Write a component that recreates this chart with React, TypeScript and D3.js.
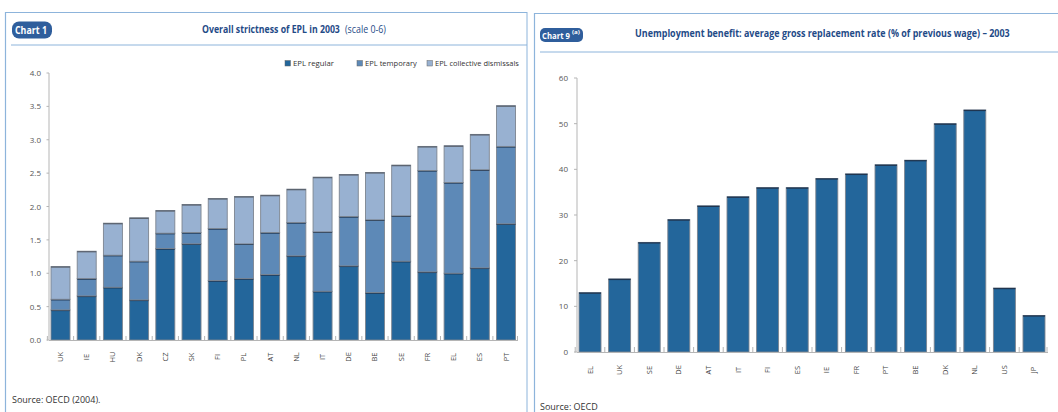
import React, { useLayoutEffect, useRef, useState } from "react";
import * as d3 from "d3";

const eplCountries = ["UK","IE","HU","DK","CZ","SK","FI","PL","AT","NL","IT","DE","BE","SE","FR","EL","ES","PT"];
const eplRegular = [0.45,0.66,0.79,0.60,1.37,1.44,0.89,0.92,0.98,1.26,0.73,1.11,0.71,1.18,1.02,1.00,1.08,1.74];
const eplTemporary = [0.16,0.26,0.48,0.58,0.23,0.17,0.78,0.52,0.63,0.50,0.89,0.74,1.09,0.68,1.52,1.36,1.47,1.16];
const eplCollective = [0.49,0.41,0.48,0.65,0.34,0.42,0.45,0.71,0.56,0.50,0.82,0.63,0.71,0.76,0.36,0.55,0.53,0.61];
const eplTicks = [0,0.5,1,1.5,2,2.5,3,3.5,4];
const eplSeries = ["EPL regular","EPL temporary","EPL collective dismissals"];

const ubCountries = ["EL","UK","SE","DE","AT","IT","FI","ES","IE","FR","PT","BE","DK","NL","US","JP"];
const ubValues = [13,16,24,29,32,34,36,36,38,39,41,42,50,53,14,8];
const ubTicks = [0,10,20,30,40,50,60];

const COLORS = ["#23669b","#5d89b7","#98b1d1"];
const FRAME = "#8db4db";
const BADGE = "#2f5e9c";
const TITLE = "#1f4b87";
const FONT = "'Open Sans', 'Noto Sans', sans-serif";

function FitText(props: { x: number; y: number; width: number; children: any; [k: string]: any }) {
  const { x, y, width, children, ...rest } = props;
  const ref = useRef<SVGTextElement>(null);
  const [sx, setSx] = useState(1);
  useLayoutEffect(() => {
    if (ref.current) {
      const w = ref.current.getComputedTextLength();
      if (w > 0) setSx(width / w);
    }
  }, [width, children]);
  return (
    <text ref={ref} x={0} y={0} transform={`translate(${x},${y}) scale(${sx},1)`} {...rest}>{children}</text>
  );
}

export default function App() {
  const xL = d3.scaleBand<string>().domain(eplCountries).range([49, 517.5]).paddingInner(0.275).paddingOuter(0.076);
  const yL = d3.scaleLinear().domain([0, 4]).range([340, 73]);
  const stackData = eplCountries.map((c, i) => ({ c, r: eplRegular[i], t: eplTemporary[i], d: eplCollective[i] }));
  const stack = d3.stack<any>().keys(["r", "t", "d"])(stackData);

  const xR = d3.scaleBand<string>().domain(ubCountries).range([577, 1047]).paddingInner(0.257).paddingOuter(0.068);
  const yR = d3.scaleLinear().domain([0, 60]).range([352, 78]);

  const legendX = [285, 357, 427];

  return (
    <div style={{ position: "absolute", left: 0, top: 0 }}>
      <svg width={1058} height={412} style={{ display: "block", fontFamily: FONT }}>
        <rect width={1058} height={412} fill="#fff" />
        {/* Left panel frame */}
        <line x1={5} y1={12.5} x2={527} y2={12.5} stroke={FRAME} strokeWidth={1.2} />
        <line x1={5.5} y1={12} x2={5.5} y2={412} stroke={FRAME} strokeWidth={1.2} />
        <line x1={527} y1={12} x2={527} y2={412} stroke={FRAME} strokeWidth={1} />
        <line x1={11} y1={45} x2={527} y2={45} stroke={FRAME} strokeWidth={1} />
        <rect x={12} y={21.5} width={40} height={17} rx={7} fill={BADGE} />
        <FitText x={15} y={33.5} width={32} fill="#fff" fontSize={10} fontWeight={700}>Chart 1</FitText>
        <FitText x={202} y={33} width={138} fill={TITLE} fontSize={10} fontWeight={700}>Overall strictness of EPL in 2003</FitText>
        <FitText x={345} y={33} width={41} fill={TITLE} fontSize={10}>(scale 0-6)</FitText>

        {eplSeries.map((s, i) => (
          <g key={s}>
            <rect x={legendX[i]} y={60.5} width={5.5} height={5.5} fill={COLORS[i]} stroke="#666" strokeWidth={0.5} />
            <FitText x={legendX[i] + 8} y={66} width={[41, 52, 84][i]} fontSize={7.5} fill="#333">{s}</FitText>
          </g>
        ))}

        <line x1={49} y1={yL(4)} x2={49} y2={yL(0)} stroke="#b5b5b5" strokeWidth={1} />
        {eplTicks.map((t) => (
          <g key={t}>
            <line x1={46.5} x2={49} y1={yL(t)} y2={yL(t)} stroke="#b5b5b5" />
            <text x={41} y={yL(t) + 3} fontSize={8} fill="#555" textAnchor="end">{t.toFixed(1)}</text>
          </g>
        ))}
        {stack.map((layer, li) => (
          <g key={li}>
            {layer.map((seg, i) => {
              const x = xL(eplCountries[i])!;
              const w = xL.bandwidth();
              const y0 = yL(seg[0]);
              const y1 = yL(seg[1]);
              return (
                <g key={i}>
                  <rect x={x} y={y1} width={w} height={y0 - y1} fill={COLORS[li]} stroke="#7d8590" strokeWidth={0.9} />
                  <line x1={x} x2={x + w} y1={y1 + 0.5} y2={y1 + 0.5} stroke={li === 2 ? "#5c6470" : "#1f3550"} strokeWidth={1.3} />
                </g>
              );
            })}
          </g>
        ))}
        <line x1={49} x2={518} y1={340.5} y2={340.5} stroke="#b5b5b5" />
        {eplCountries.map((c) => {
          const bx = xL(c)! - (xL.step() - xL.bandwidth()) / 2;
          return <line key={"t" + c} x1={bx} x2={bx} y1={340.5} y2={336} stroke="#b5b5b5" />;
        })}
        <line x1={517.5} x2={517.5} y1={340.5} y2={336} stroke="#b5b5b5" />
        {eplCountries.map((c) => {
          const cx = xL(c)! + xL.bandwidth() / 2;
          return (
            <text key={"l" + c} transform={`translate(${cx + 2.5},357) rotate(-90)`} fontSize={7.5} fill="#444" textAnchor="middle">{c}</text>
          );
        })}
        <text x={12} y={403} fontSize={9} fill="#333">Source: OECD (2004).</text>

        {/* Right panel frame */}
        <line x1={534} y1={13.5} x2={1058} y2={13.5} stroke={FRAME} strokeWidth={1.2} />
        <line x1={534.5} y1={13} x2={534.5} y2={412} stroke={FRAME} strokeWidth={1.2} />
        <line x1={540} y1={52} x2={1058} y2={52} stroke={FRAME} strokeWidth={1} />
        <rect x={540} y={28} width={43} height={14} rx={5} fill={BADGE} />
        <FitText x={542} y={38.5} width={28} fill="#fff" fontSize={9.5} fontWeight={700}>Chart 9</FitText>
        <FitText x={572} y={33.5} width={8} fill="#fff" fontSize={4.5} fontWeight={700}>(a)</FitText>
        <FitText x={635} y={37} width={375} fill={TITLE} fontSize={10} fontWeight={700}>Unemployment benefit: average gross replacement rate (% of previous wage) – 2003</FitText>

        <line x1={577} y1={yR(60)} x2={577} y2={yR(0)} stroke="#b5b5b5" />
        {ubTicks.map((t) => (
          <g key={t}>
            <line x1={574} x2={577} y1={yR(t)} y2={yR(t)} stroke="#b5b5b5" />
            <text x={568} y={yR(t) + 3} fontSize={8} fill="#555" textAnchor="end">{t}</text>
          </g>
        ))}
        {ubCountries.map((c, i) => {
          const x = xR(c)!;
          const w = xR.bandwidth();
          const y1 = yR(ubValues[i]);
          return (
            <g key={c}>
              <rect x={x} y={y1} width={w} height={yR(0) - y1} fill={COLORS[0]} stroke="#7d8590" strokeWidth={0.9} />
              <line x1={x} x2={x + w} y1={y1 + 0.5} y2={y1 + 0.5} stroke="#1f3550" strokeWidth={1.3} />
            </g>
          );
        })}
        <line x1={577} x2={1048} y1={352.5} y2={352.5} stroke="#b5b5b5" />
        {ubCountries.map((c) => {
          const bx = xR(c)! - (xR.step() - xR.bandwidth()) / 2;
          return <line key={"t" + c} x1={bx} x2={bx} y1={352.5} y2={347} stroke="#b5b5b5" />;
        })}
        <line x1={1047} x2={1047} y1={352.5} y2={347} stroke="#b5b5b5" />
        {ubCountries.map((c) => {
          const cx = xR(c)! + xR.bandwidth() / 2;
          return (
            <text key={"l" + c} transform={`translate(${cx + 2.5},370) rotate(-90)`} fontSize={7.5} fill="#444" textAnchor="middle">{c}</text>
          );
        })}
        <text x={540} y={410} fontSize={9} fill="#333">Source: OECD</text>
      </svg>
    </div>
  );
}
